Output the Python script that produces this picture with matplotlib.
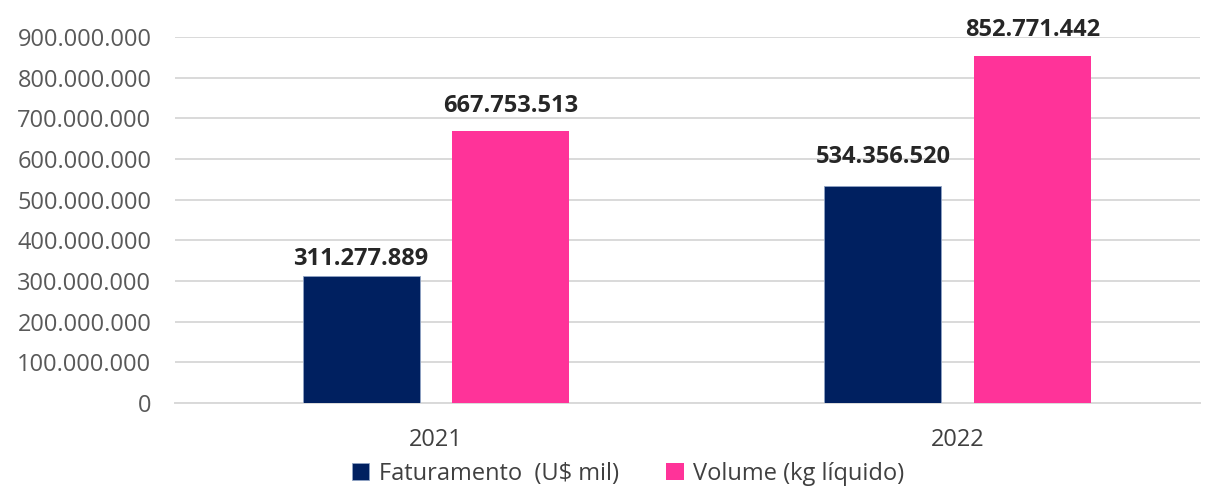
import numpy as np
import matplotlib.pyplot as plt
from matplotlib.ticker import FuncFormatter

plt.rcParams['font.family'] = ['Open Sans', 'DejaVu Sans']

anos = ['2021', '2022']
faturamento = [311277889, 534356520]
volume = [667753513, 852771442]

cor_fat = '#002060'
cor_vol = '#FF3399'

def fmt_br(v, pos=None):
    return f'{int(round(v)):,}'.replace(',', '.')

fig = plt.figure(figsize=(12.05, 4.9), dpi=100)
ax = fig.add_axes([175 / 1205, 1 - 403 / 490, 1025 / 1205, 366 / 490])

x = np.arange(len(anos))
w = 0.224
off = 0.1435
b1 = ax.bar(x - off, faturamento, w, color=cor_fat, edgecolor='#8fa3c4', linewidth=0.6,
            label='Faturamento  (U$ mil)', zorder=3)
b2 = ax.bar(x + off, volume, w, color=cor_vol, label='Volume (kg líquido)', zorder=3)

# distancia (px) entre o topo da barra e o rotulo
gaps = {0: [5, 17], 1: [13, 14]}
for i, bars in enumerate((b1, b2)):
    for j, r in enumerate(bars):
        ax.annotate(fmt_br(r.get_height()),
                    (r.get_x() + r.get_width() / 2, r.get_height()),
                    xytext=(0, gaps[i][j]), textcoords='offset pixels',
                    ha='center', va='bottom', fontsize=17, fontweight='bold',
                    color='#262626', annotation_clip=False)

ax.set_xlim(-0.5, 1.464)
ax.set_ylim(0, 900e6)
ax.set_yticks(np.arange(0, 900e6 + 1, 100e6))
ax.yaxis.set_major_formatter(FuncFormatter(fmt_br))
ax.set_xticks(x)
ax.set_xticklabels(anos)

ax.grid(axis='y', color='#d9d9d9', linewidth=1.4, zorder=0)
for s in ['top', 'right', 'left']:
    ax.spines[s].set_visible(False)
ax.spines['bottom'].set_color('#d9d9d9')
ax.spines['bottom'].set_linewidth(1.4)
ax.tick_params(axis='y', length=0, pad=17, labelsize=17, labelcolor='#595959')
ax.tick_params(axis='x', length=0, pad=18, labelsize=17, labelcolor='#404040')

fig.legend(handles=[b1, b2], loc='center', bbox_to_anchor=(628 / 1205, 1 - 474 / 490),
           ncol=2, frameon=False, fontsize=17, labelcolor='#404040',
           handlelength=0.75, handleheight=0.75, handletextpad=0.4, columnspacing=2.0)

fig.savefig('out.png', dpi=100)
